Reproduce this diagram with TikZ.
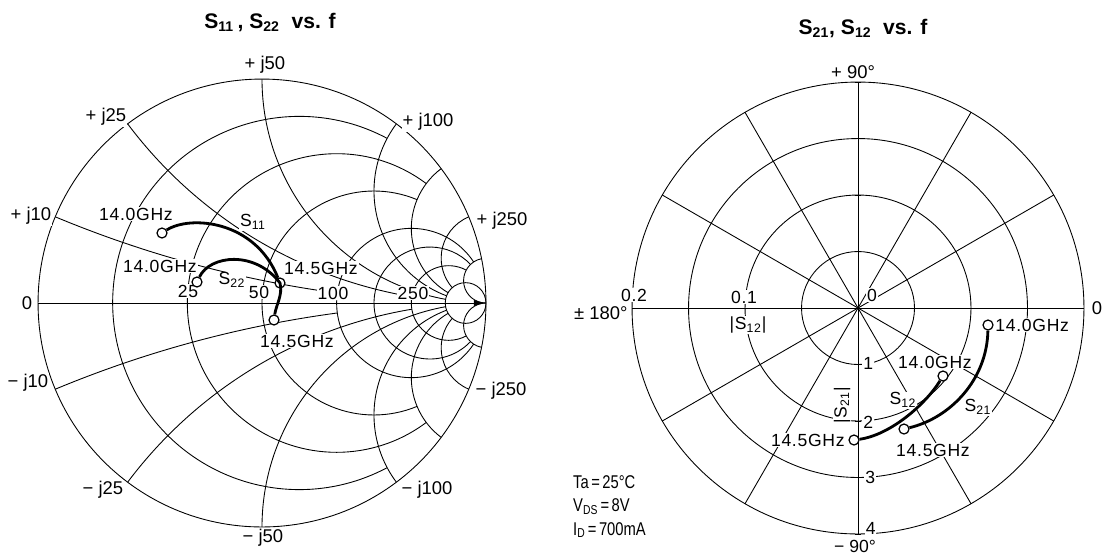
\documentclass[tikz,border=0pt]{standalone}
\usepackage{fontspec}
\setmainfont{Liberation Sans}
\newfontfamily\lblfont[LetterSpace=4]{Liberation Sans}
\usepackage{graphicx}
\usetikzlibrary{arrows.meta}
\tikzset{
  grid/.style={line width=0.5pt},
  lbl/.style={fill=white, inner sep=0.6pt, font=\lblfont\fontsize{10}{12}\selectfont},
  axl/.style={fill=white, inner sep=0.6pt, font=\fontsize{10.5}{12}\selectfont},
  cond/.style={inner sep=0.5pt, font=\fontsize{10.5}{12}\selectfont, anchor=west},
  mk/.style={circle, draw, fill=white, line width=0.7pt, minimum size=0.2cm, inner sep=0pt},
  curve/.style={line width=1.6pt},
  ttl/.style={font=\bfseries\fontsize{12}{14}\selectfont},
}
\newcommand\smithR[2]{%
  \pgfmathsetmacro\smC{#1/(#1+1)}%
  \pgfmathsetmacro\smP{1/(#1+1)}%
  \pgfmathsetmacro\smH{2*atan(#2/(#1+1))}%
  \draw[grid] ({\smC+\smP*cos(180-\smH)},{\smP*sin(180-\smH)}) arc[start angle={180-\smH}, end angle={180+\smH}, radius=\smP];%
}
\newcommand\smithX[2]{%
  \pgfmathsetmacro\smA{-90-2*atan(#1)}%
  \pgfmathsetmacro\smB{-90-2*atan(#1/(#2+1))}%
  \pgfmathsetmacro\smP{1/#1}%
  \draw[grid] ({1+\smP*cos(\smA)},{\smP+\smP*sin(\smA)}) arc[start angle=\smA, end angle=\smB, radius=\smP];%
  \draw[grid] ({1+\smP*cos(\smA)},{-\smP-\smP*sin(\smA)}) arc[start angle={-1*(\smA)}, end angle={-1*(\smB)}, radius=\smP];%
}
\begin{document}
\begin{tikzpicture}[x=0.02cm, y=-0.02cm]
\useasboundingbox (0,0) rectangle (1104,556);

% ---------- Smith chart ----------
\begin{scope}[shift={(262,303)}, x=4.48cm, y=4.48cm]
  \draw[grid] (0,0) circle[radius=1];
  \smithR{0.2}{2}
  \smithR{0.5}{3}
  \smithR{1}{3}
  \smithR{2}{10}
  \smithR{3}{10}
  \smithR{5}{10}
  \draw[grid] ({10/11},0) circle[radius={1/11}];
  \smithX{0.2}{2}
  \smithX{0.5}{5}
  \smithX{1}{10}
  \smithX{2}{10}
  \smithX{3}{10}
  \smithX{5}{10}
  \smithX{10}{10000}
  \draw[grid, -{Latex[length=2.4mm, width=1.2mm]}] (-1,0) -- (1,0);
\end{scope}

% Smith labels
\node[ttl] (t1) at (270,22) {S\textsubscript{11}\,, S\textsubscript{22} \ vs. f};
\node[axl] (j50) at (265,65) {+ j50};
\node[axl] (j25) at (106,117) {+ j25};
\node[axl] (j100) at (428,122) {+ j100};
\node[axl] (j10) at (31,216) {+ j10};
\node[axl] (j250) at (502,221) {+ j250};
\node[axl] (zero1) at (27,303) {0};
\node[axl] (mj10) at (28,383) {− j10};
\node[axl] (mj25) at (103,490) {− j25};
\node[axl] (mj50) at (263,538) {− j50};
\node[axl] (mj100) at (427,490) {− j100};
\node[axl] (mj250) at (501,391) {− j250};
\node[lbl] (r25) at (188,291) {25};
\node[lbl] (r50) at (259,292) {50};
\node[lbl] (r100) at (333,293) {100};
\node[lbl] (r250) at (413,293) {250};
\node[lbl] (f11a) at (136,214) {14.0GHz};
\node[lbl] (ls11) at (253,222) {S\textsubscript{11}};
\node[lbl] (f11b) at (321,268) {14.5GHz};
\node[lbl] (f22a) at (160,266) {14.0GHz};
\node[lbl] (ls22) at (232,280) {S\textsubscript{22}};
\node[lbl] (f22b) at (297,341) {14.5GHz};

% Smith data
\node[mk] (s11a) at (162,233) {};
\node[mk] (s11b) at (280,283) {};
\node[mk] (s22a) at (197,282) {};
\node[mk] (s22b) at (274,320) {};
\draw[curve] (s11a) .. controls (190,215) and (255,220) .. (s11b);
\draw[curve] (s22a) .. controls (210,255) and (255,250) .. (s11b.center) .. controls (283,295) and (276,305) .. (s22b);

% ---------- Polar chart ----------
\begin{scope}[shift={(858,308)}, x=1.13cm, y=1.13cm]
  \foreach \k in {1,2,3,4} \draw[grid] (0,0) circle[radius=\k];
  \foreach \a in {0,30,...,330} \draw[grid] (0,0) -- (\a:4);
  \foreach \k in {1,2,3,4} {
    \draw[grid] (-0.06,-\k) -- (0.06,-\k);
    \draw[grid] (-0.06,\k) -- (0.06,\k);
  }
\end{scope}

\node[ttl] (t2) at (863,28) {S\textsubscript{21}, S\textsubscript{12} \ vs. f};
\node[axl] (p90) at (853,72) {+ 90°};
\node[axl, inner sep=0pt, font=\fontsize{10}{12}\selectfont] (m90) at (855,546) {− 90°};
\node[axl, anchor=east] (p180) at (629,313) {± 180°};
\node[axl] (p0) at (1097,308) {0};
\node[lbl] (v02) at (634,295) {0.2};
\node[lbl] (v01) at (744,297) {0.1};
\node[lbl] (ls12a) at (748,325) {|S\textsubscript{12}|};
\node[lbl] (v0) at (872,295) {0};
\node[lbl, anchor=west] (v1) at (862,363) {1};
\node[lbl, anchor=west] (v2) at (862,422) {2};
\node[lbl, anchor=west] (v3) at (864,477) {3};
\node[lbl, anchor=west, inner sep=0.3pt] (v4) at (865,528) {4};
\node[lbl, rotate=90] (ls21a) at (842,405) {|S\textsubscript{21}|};
\node[lbl, anchor=west] (f21a) at (994,325) {14.0GHz};
\node[lbl] (f12a) at (935,362) {14.0GHz};
\node[lbl] (ls12) at (903,400) {S\textsubscript{12}};
\node[lbl] (ls21) at (978,407) {S\textsubscript{21}};
\node[lbl] (f21b) at (933,450) {14.5GHz};
\node[lbl, anchor=east] (f12b) at (846,440) {14.5GHz};

\node[mk] (p21a) at (988,325) {};
\node[mk] (p21b) at (904,429) {};
\node[mk] (p12a) at (943,376) {};
\node[mk] (p12b) at (854,440) {};
\draw[curve] (p21a) .. controls (987,380) and (950,418) .. (p21b);
\draw[curve] (p12a) .. controls (925,405) and (890,435) .. (p12b);

% conditions
\node[cond] (ta) at (572,482) {\scalebox{0.8}[1]{Ta\,=\,25°C}};
\node[cond] (vds) at (572,507) {\scalebox{0.8}[1]{V\textsubscript{DS}\,=\,8V}};
\node[cond] (id) at (572,530) {\scalebox{0.8}[1]{I\textsubscript{D}\,=\,700mA}};
\end{tikzpicture}
\end{document}
